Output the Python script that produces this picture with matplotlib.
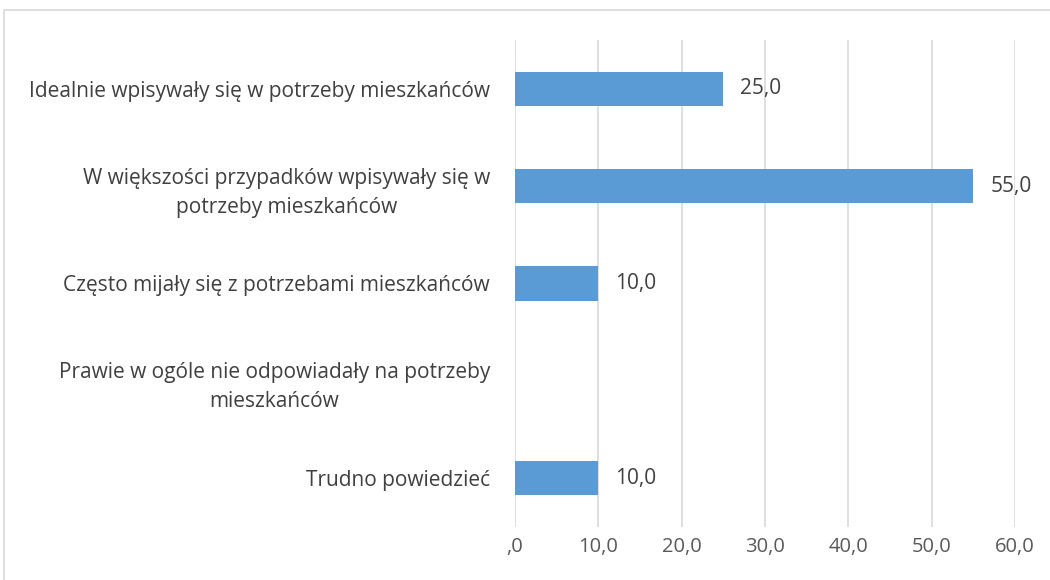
import matplotlib
matplotlib.use('Agg')
from matplotlib import pyplot as plt
from matplotlib.patches import Rectangle

categories = ["Idealnie wpisywały się w potrzeby mieszkańców",
              "W większości przypadków wpisywały się w\npotrzeby mieszkańców",
              "Często mijały się z potrzebami mieszkańców",
              "Prawie w ogóle nie odpowiadały na potrzeby\nmieszkańców",
              "Trudno powiedzieć"]
values = [25.0, 55.0, 10.0, None, 10.0]
ticks = [0, 10, 20, 30, 40, 50, 60]
tick_labels = [",0", "10,0", "20,0", "30,0", "40,0", "50,0", "60,0"]

plt.rcParams['font.family'] = ['Open Sans', 'DejaVu Sans']

fig = plt.figure(figsize=(10.5, 5.8), dpi=100)
#light border around the chart area, cut off at right and bottom like the original
fig.patches.append(Rectangle((4/1050, -0.1), 1.2, 1 - 10/580 + 0.1, transform=fig.transFigure,
                             fill=False, edgecolor="#D9D9D9", linewidth=1.2))

ax = fig.add_axes([515/1050, 1 - 527/580, 500/1050, 487/580])
pos = list(range(len(categories)))
for i, v in enumerate(values):
    if v is None:
        continue
    ax.barh(i, v, height=0.35, color="#5B9BD5")
    ax.annotate(("%.1f" % v).replace(".", ","), (v, i), xytext=(17, 0), textcoords='offset pixels',
                va='center', ha='left', fontsize=15, color="#404040")

ax.set_ylim(len(categories) - 0.5, -0.5)
ax.set_xlim(0, 60)
ax.set_xticks(ticks)
ax.set_xticklabels(tick_labels, fontsize=14.5, color="#595959")
ax.set_yticks(pos)
ax.set_yticklabels(categories, fontsize=15, color="#404040", ha='right',
                   multialignment='center', linespacing=1.5)
ax.tick_params(axis='y', length=0, pad=18)
ax.tick_params(axis='x', length=0, pad=7)
ax.grid(axis='x', color="#D9D9D9", linewidth=1.2)
ax.set_axisbelow(True)
for s in ax.spines.values():
    s.set_visible(False)

plt.savefig('out.png', dpi=100)
